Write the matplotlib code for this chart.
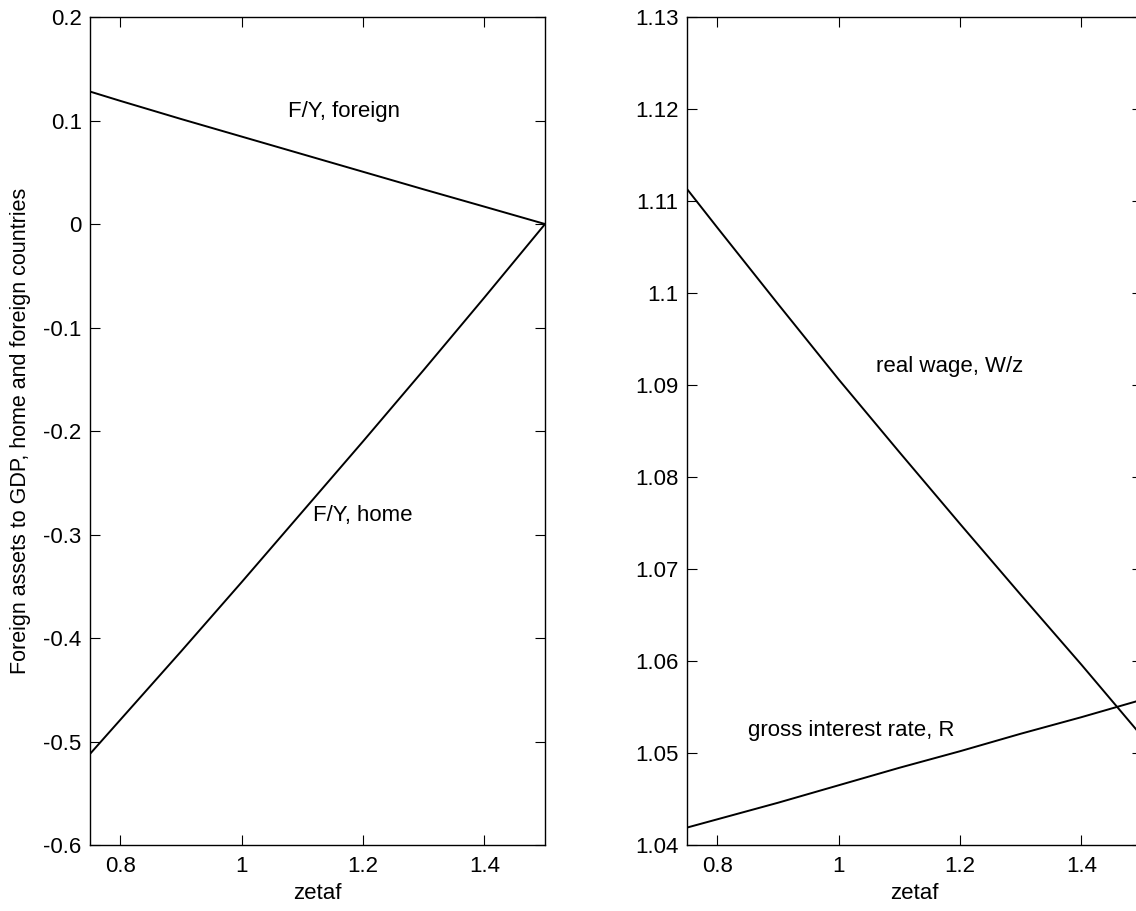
import matplotlib
matplotlib.use('Agg')
import matplotlib.pyplot as plt

# zetaf grid
zetaf = [0.75, 0.8, 0.9, 1.0, 1.1, 1.2, 1.3, 1.4, 1.5]

# left panel: foreign assets to GDP
fy_foreign = [0.128, 0.119, 0.1015, 0.0845, 0.0675, 0.0505, 0.0335, 0.0168, 0.0]
fy_home = [-0.512, -0.479, -0.413, -0.346, -0.278, -0.210, -0.141, -0.071, 0.0]

# right panel: real wage and gross interest rate
real_wage = [1.1113, 1.1071, 1.0988, 1.0906, 1.0827, 1.0749, 1.0672, 1.0596, 1.0518]
gross_rate = [1.0419, 1.0428, 1.0446, 1.0465, 1.0484, 1.0502, 1.0521, 1.0539, 1.0558]

x_ticks = [0.8, 1.0, 1.2, 1.4]
x_ticklabels = ['0.8', '1', '1.2', '1.4']
left_yticks = [-0.6, -0.5, -0.4, -0.3, -0.2, -0.1, 0.0, 0.1, 0.2]
left_yticklabels = ['-0.6', '-0.5', '-0.4', '-0.3', '-0.2', '-0.1', '0', '0.1', '0.2']
right_yticks = [1.04, 1.05, 1.06, 1.07, 1.08, 1.09, 1.10, 1.11, 1.12, 1.13]
right_yticklabels = ['1.04', '1.05', '1.06', '1.07', '1.08', '1.09', '1.1', '1.11', '1.12', '1.13']

plt.rcParams['font.family'] = ['Liberation Sans', 'DejaVu Sans']
fs = 16


def style_axes(ax):
    ax.tick_params(direction='in', length=7, width=0.8, top=True, right=True,
                   labelsize=fs)
    ax.tick_params(axis='x', pad=8)
    ax.tick_params(axis='y', pad=6)
    for s in ax.spines.values():
        s.set_linewidth(1.0)
    ax.set_xlim(0.75, 1.5)
    ax.set_xticks(x_ticks)
    ax.set_xticklabels(x_ticklabels)
    ax.set_xlabel('zetaf', fontsize=fs, labelpad=4)


fig = plt.figure(figsize=(11.36, 9.11), dpi=100)
ax1 = fig.add_axes([0.0792, 0.0724, 0.4006, 0.9089])
ax2 = fig.add_axes([0.6048, 0.0724, 0.4006, 0.9089])

ax1.plot(zetaf, fy_foreign, color='black', lw=1.4)
ax1.plot(zetaf, fy_home, color='black', lw=1.4)
style_axes(ax1)
ax1.set_ylim(-0.6, 0.2)
ax1.set_yticks(left_yticks)
ax1.set_yticklabels(left_yticklabels)
ax1.set_ylabel('Foreign assets to GDP, home and foreign countries', fontsize=15.5, labelpad=9)
ax1.text(1.076, 0.109, 'F/Y, foreign', fontsize=fs, va='center', ha='left')
ax1.text(1.117, -0.282, 'F/Y, home', fontsize=fs, va='center', ha='left')

ax2.plot(zetaf, real_wage, color='black', lw=1.4)
ax2.plot(zetaf, gross_rate, color='black', lw=1.4)
style_axes(ax2)
ax2.set_ylim(1.04, 1.13)
ax2.set_yticks(right_yticks)
ax2.set_yticklabels(right_yticklabels)
ax2.text(1.062, 1.092, 'real wage, W/z', fontsize=fs, va='center', ha='left')
ax2.text(0.851, 1.0525, 'gross interest rate, R', fontsize=fs, va='center', ha='left')

fig.savefig('out.png', dpi=100)
